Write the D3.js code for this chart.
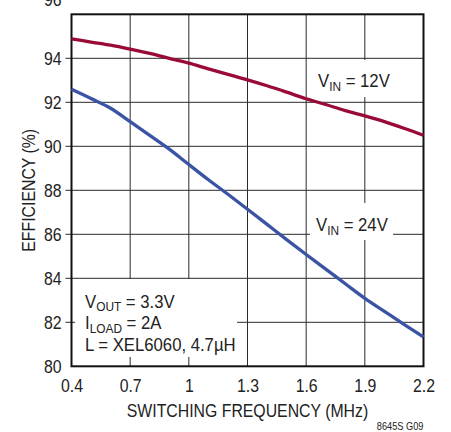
<!DOCTYPE html>
<html>
<head>
<meta charset="utf-8">
<script src="https://cdn.jsdelivr.net/npm/d3@7"></script>
<style>
  html, body { margin: 0; padding: 0; background: #fff; }
  svg { display: block; }
  text { font-family: "Liberation Sans", Arial, sans-serif; fill: #222; }
</style>
</head>
<body>
<svg id="chart" width="451" height="432"></svg>
<script>
// Switching frequency (MHz) sample points
const freqMHz = [0.4, 0.5, 0.6, 0.7, 0.8, 0.9, 1.0, 1.1, 1.2, 1.3, 1.4, 1.5, 1.6, 1.7, 1.8, 1.9, 2.0, 2.1, 2.2];
// Efficiency (%) at VIN = 12V
const eff12V = [94.88, 94.74, 94.6, 94.42, 94.22, 94.0, 93.78, 93.52, 93.27, 93.02, 92.75, 92.46, 92.16, 91.9, 91.62, 91.38, 91.12, 90.82, 90.5];
// Efficiency (%) at VIN = 24V
const eff24V = [92.59, 92.17, 91.73, 91.12, 90.5, 89.87, 89.17, 88.48, 87.82, 87.14, 86.45, 85.76, 85.08, 84.42, 83.75, 83.09, 82.5, 81.91, 81.33];

const xTicks = [0.4, 0.7, 1.0, 1.3, 1.6, 1.9, 2.2];
const xTickLabels = ["0.4", "0.7", "1", "1.3", "1.6", "1.9", "2.2"];
const yTicks = [80, 82, 84, 86, 88, 90, 92, 94, 96];

const svg = d3.select("#chart");
const plotLeft = 71.5, plotRight = 423.5, plotTop = 14.3, plotBottom = 366.3;
const squeeze = 0.88; // condensed lettering

const x = d3.scaleLinear().domain([0.4, 2.2]).range([plotLeft, plotRight]);
const y = d3.scaleLinear().domain([80, 96]).range([plotBottom, plotTop]);

// place a text at (px, py) with condensed letterforms
function narrowText(parent, px, py, size, anchor) {
  return parent.append("text")
    .attr("transform", `translate(${px},${py}) scale(${squeeze},1)`)
    .attr("font-size", size)
    .attr("text-anchor", anchor || "start");
}

// grid
const grid = svg.append("g");
grid.selectAll("line.v").data(xTicks.slice(1, -1)).join("line")
  .attr("x1", d => x(d)).attr("x2", d => x(d))
  .attr("y1", plotTop).attr("y2", plotBottom)
  .attr("stroke", "#2a2a2a").attr("stroke-width", 1);
grid.selectAll("line.h").data(yTicks.slice(1, -1)).join("line")
  .attr("x1", plotLeft - 6).attr("x2", plotRight)
  .attr("y1", d => y(d)).attr("y2", d => y(d))
  .attr("stroke", "#2a2a2a").attr("stroke-width", 1);

// white backing behind annotations
const boxes = [
  { x0: 310, x1: 394, y0: 60, y1: 97 },
  { x0: 310, x1: 393, y0: 203, y1: 240 },
  { x0: 75, x1: 237, y0: 279, y1: 357 }
];
svg.append("g").selectAll("rect").data(boxes).join("rect")
  .attr("x", d => d.x0).attr("y", d => d.y0)
  .attr("width", d => d.x1 - d.x0).attr("height", d => d.y1 - d.y0)
  .attr("fill", "#fff");

// frame
svg.append("rect")
  .attr("x", plotLeft).attr("y", plotTop)
  .attr("width", plotRight - plotLeft).attr("height", plotBottom - plotTop)
  .attr("fill", "none").attr("stroke", "#111").attr("stroke-width", 2);

// curves
const line = d3.line().x(d => x(d[0])).y(d => y(d[1])).curve(d3.curveMonotoneX);
const series = [
  { values: eff12V, color: "#9a0a36" },
  { values: eff24V, color: "#3a53a4" }
];
svg.append("g").selectAll("path").data(series).join("path")
  .attr("d", s => line(freqMHz.map((f, i) => [f, s.values[i]])))
  .attr("fill", "none").attr("stroke", s => s.color)
  .attr("stroke-width", 3.3).attr("stroke-linejoin", "round");

// y axis labels
const yAxis = d3.axisLeft(y).tickValues(yTicks).tickSize(0).tickPadding(10).tickFormat(d3.format("d"));
const yg = svg.append("g").attr("transform", `translate(${plotLeft},0)`).call(yAxis);
yg.select(".domain").remove();
yg.selectAll("text")
  .attr("font-size", 18).attr("fill", "#222").attr("font-family", null)
  .attr("x", null)
  .attr("transform", `translate(-10,0) scale(${squeeze},1)`)
  .attr("dy", d => d === 96 ? "-0.48em" : "0.36em");

// x axis labels
const xAxis = d3.axisBottom(x).tickValues(xTicks).tickSize(0).tickPadding(13)
  .tickFormat((d, i) => xTickLabels[i]);
const xg = svg.append("g").attr("transform", `translate(0,${plotBottom})`).call(xAxis);
xg.select(".domain").remove();
xg.selectAll("text")
  .attr("font-size", 18).attr("fill", "#222").attr("font-family", null)
  .attr("y", null)
  .attr("transform", `translate(0,13) scale(${squeeze},1)`);

// axis titles
narrowText(svg, (plotLeft + plotRight) / 2, 417, 18, "middle")
  .text("SWITCHING FREQUENCY (MHz)");
svg.append("text")
  .attr("transform", `translate(35,${(plotTop + plotBottom) / 2}) rotate(-90) scale(${squeeze},1)`)
  .attr("text-anchor", "middle").attr("font-size", 18)
  .text("EFFICIENCY (%)");

// footnote
narrowText(svg, plotRight, 430, 10.5, "end").text("8645S G09");

// annotations with subscripts
function subLabel(px, py, main, sub, rest) {
  const t = narrowText(svg, px, py, 19);
  t.append("tspan").text(main);
  t.append("tspan").attr("font-size", 13.5).attr("dy", 3.5).text(sub);
  t.append("tspan").attr("dy", -3.5).text(rest);
  return t;
}
subLabel(318, 87, "V", "IN", " = 12V");
subLabel(316, 231, "V", "IN", " = 24V");
subLabel(85, 307.5, "V", "OUT", " = 3.3V");
subLabel(85, 329, "I", "LOAD", " = 2A");
narrowText(svg, 85, 350.5, 19).text("L = XEL6060, 4.7µH");
</script>
</body>
</html>
